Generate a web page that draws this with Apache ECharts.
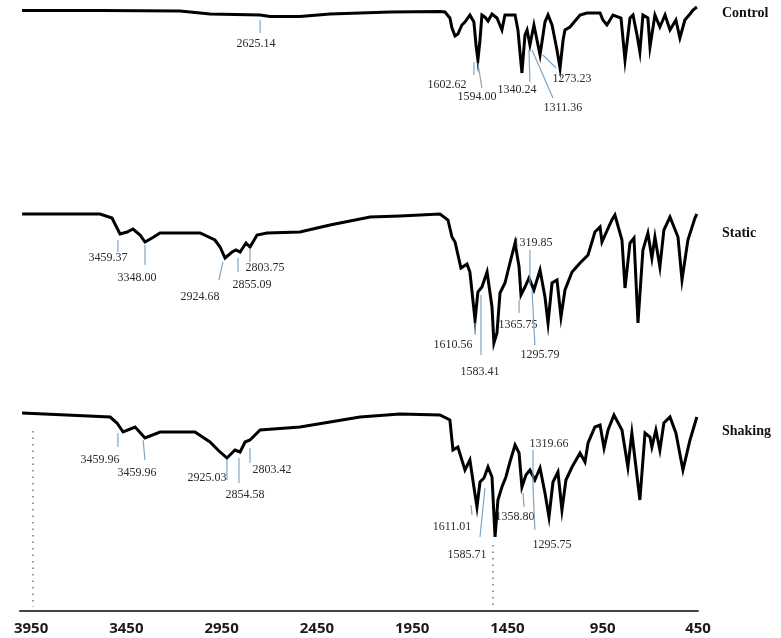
<!DOCTYPE html>
<html>
<head>
<meta charset="utf-8">
<script src="https://cdn.jsdelivr.net/npm/echarts@6/dist/echarts.min.js"></script>
<style>
html,body{margin:0;padding:0;background:#fff;}
#chart{width:781px;height:638px;}
</style>
</head>
<body>
<div id="chart"></div>
<script>
// ---- Data (wavenumber in cm-1, transmittance in arbitrary units) ----
const xTicks = [3950, 3450, 2950, 2450, 1950, 1450, 950, 450];
const seriesNames = ["Control", "Static", "Shaking"];
const offsets = [200, 100, 0];

const controlWn = [3997,3588,3168,3011,2748,2696,2539,2381,2066,1804,1778,1752,1741,1725,1710,1689,1673,1647,1626,1615,1605,1594,1584,1568,1552,1531,1505,1479,1463,1410,1395,1374,1358,1347,1332,1311,1279,1253,1237,1216,1190,1174,1158,1148,1122,1069,1033,964,949,928,896,854,833,807,791,770,755,739,713,702,676,650,623,597,566,545,519,492,476,456];
const controlT  = [100.3,100.3,100,98.5,98,97.3,97.3,98.5,99.5,99.8,99.5,96.5,91.5,87.5,88.5,93,94.5,98,94.5,83,75.5,85.5,98,97,95,98.5,96.5,90.5,98,98,90.5,69,88,90.5,83,93,78,94.5,98,93,80.5,71.5,85.5,90.5,92,98,99,99,95.5,93,98,96.5,75.5,96.5,98,88,79.5,98,96.5,82,98,92,98,90.5,95.5,86.5,95.5,98.5,100.5,102];

const staticWn = [3997,3588,3525,3499,3483,3446,3415,3378,3352,3315,3273,3063,2985,2958,2932,2895,2875,2853,2822,2801,2764,2712,2539,2381,2171,2014,1804,1762,1741,1725,1694,1662,1647,1620,1605,1584,1557,1531,1521,1505,1489,1463,1437,1410,1389,1379,1358,1337,1311,1279,1253,1237,1216,1190,1169,1148,1111,1069,1027,991,964,954,933,902,886,849,833,807,786,765,739,713,692,676,650,629,597,555,534,503,466,456];
const staticT  = [98.5,98.5,96.5,91.5,88.5,89.5,91,88,84.5,86.5,89,89,85.5,82,76.5,79.5,80.5,79.5,84,82,88,89,89.5,93,97,97.5,98.5,95.5,87,84.5,71.5,73.5,69.5,45.5,59.5,62,69.5,52,34,39,59,64,74,84,72,58,62,66.5,60.5,70.5,57,44,64,65.5,47,60.5,69.5,74,78,89.5,92,84.5,89,95.5,98,85.5,61.5,84,86.5,44,80.5,89,76.5,87,72,90.5,97,87,65.5,85.5,96.5,98.5];

const shakingWn = [3997,3535,3499,3467,3404,3352,3273,3090,3011,2969,2922,2880,2853,2827,2801,2748,2539,2381,2224,2014,1804,1752,1736,1710,1673,1647,1626,1610,1594,1573,1552,1531,1515,1500,1479,1458,1437,1410,1389,1374,1353,1332,1306,1279,1253,1232,1211,1185,1164,1143,1111,1069,1043,1027,991,964,943,922,891,849,818,797,755,728,702,692,671,650,629,597,566,529,492,456];
const shakingT  = [99,97,94,89.5,92,86.5,89.5,89.5,84.5,80.5,76.5,80.5,79.5,84.5,85.5,90.5,92,94.5,97,98.5,98,95.5,80.5,82,70.5,75.5,62,52,64.5,66.5,72,67,37,55.5,62,67,74.5,83,79,62,68,70.5,65.5,71.5,59,47,64.5,69.5,50.5,65.5,72,79,74.5,84,92,93,81.5,90.5,98,90.5,72,89,55.5,89,87,82,90.5,80.5,94,97,89,70.5,85.5,97];

// Peak annotations: text, leader line (wn1,v1)->(wn2,v2), text anchor (wn,v)
const peakTexts = ["2625.14","1602.62","1594.00","1340.24","1311.36","1273.23",
  "3459.37","3348.00","2924.68","2855.09","2803.75","1610.56","1583.41","1365.75","1319.85","1295.79",
  "3459.96","3459.96","2925.03","2854.58","2803.42","1611.01","1585.71","1358.80","1319.66","1295.75"];
const peakLeaders = [
  [2748,295.5,2748,289],[1626,274.5,1626,268],[1605,274,1584,261.5],[1337,280.5,1332,264.5],[1321,280.5,1211,256.5],[1264,278,1195,271.5],
  [3494,185.5,3494,179.5],[3352,183,3352,173],[2943,174.5,2964,165.5],[2864,176.5,2864,169.5],[2801,181.5,2801,174.5],[1620,144,1620,138],[1589,158,1589,128],[1389,155.5,1389,149],[1332,180.5,1332,163],[1321,160.5,1306,133],
  [3494,89,3494,82],[3362,85.5,3352,75.5],[2922,75.5,2922,65.5],[2859,76.5,2859,64],[2801,81.5,2801,74],[1641,53,1636,48],[1568,61.5,1594,37],[1368,59,1363,52],[1316,80.5,1316,62],[1316,62,1306,40.5]
];
const peakTextPos = [
  [2769,283.5],[1767,263],[1610,257],[1400,260.5],[1159,251.5],[1111,266],
  [3546,176.5],[3394,166.5],[3063,157],[2790,163],[2722,171.5],[1736,133],[1594,119.5],[1395,143],[1316,184],[1279,128],
  [3588,75.5],[3394,69],[3027,66.5],[2827,58],[2686,70.5],[1741,42],[1662,28],[1410,47],[1232,83.5],[1216,33]
];

// ---- Chart ----
const chart = echarts.init(document.getElementById('chart'), null, {renderer: 'canvas'});

function zipSeries(wn, t, off) {
  return wn.map((w, i) => [w, t[i] + off]);
}
const traceData = [
  zipSeries(controlWn, controlT, offsets[0]),
  zipSeries(staticWn, staticT, offsets[1]),
  zipSeries(shakingWn, shakingT, offsets[2])
];

const annotationData = peakLeaders.map((l, i) => l.concat(peakTextPos[i]));

const series = traceData.map((d, i) => ({
  name: seriesNames[i],
  type: 'line',
  data: d,
  showSymbol: false,
  symbol: 'none',
  lineStyle: {color: '#000', width: 3, join: 'miter'},
  clip: false,
  z: 3
}));

series[2].markLine = {
  silent: true,
  symbol: 'none',
  label: {show: false},
  lineStyle: {color: '#777', type: [1.5, 5], width: 1.5},
  data: [
    [{coord: [3940, 90]}, {coord: [3940, 2]}],
    [{coord: [1526, 33]}, {coord: [1526, 2]}]
  ]
};

series.push({
  type: 'custom',
  data: annotationData,
  silent: true,
  z: 5,
  renderItem: function (params, api) {
    const p1 = api.coord([api.value(0), api.value(1)]);
    const p2 = api.coord([api.value(2), api.value(3)]);
    const pt = api.coord([api.value(4), api.value(5)]);
    return {
      type: 'group',
      children: [
        {type: 'line', shape: {x1: p1[0], y1: p1[1], x2: p2[0], y2: p2[1]},
         style: {stroke: '#7ea6c8', lineWidth: 1.2}},
        {type: 'text', x: pt[0], y: pt[1],
         style: {text: peakTexts[params.dataIndex], fill: '#2a2a2a',
                 font: '12px "Liberation Serif", "Times New Roman", serif',
                 align: 'center', verticalAlign: 'middle'}}
      ]
    };
  }
});

const option = {
  backgroundColor: '#fff',
  animation: false,
  grid: {left: 20, right: 83, top: 1, bottom: 27, containLabel: false},
  xAxis: {
    type: 'value',
    inverse: true,
    min: 450,
    max: 4008,
    splitLine: {show: false},
    axisTick: {show: false},
    axisLine: {show: true, lineStyle: {color: '#444', width: 2}},
    axisLabel: {
      customValues: xTicks,
      formatter: function (v) { return String(v); },
      showMinLabel: true,
      showMaxLabel: true,
      hideOverlap: false,
      color: '#1a1a1a',
      fontFamily: '"Open Sans", sans-serif',
      fontWeight: 'bold',
      fontSize: 15,
      margin: 10
    }
  },
  yAxis: {
    type: 'value',
    min: 0,
    max: 305,
    show: false,
    splitLine: {show: false}
  },
  graphic: [
    {type: 'text', left: 722, top: 6, style: {text: seriesNames[0], fill: '#111', font: 'bold 14px "Liberation Serif", serif'}},
    {type: 'text', left: 722, top: 226, style: {text: seriesNames[1], fill: '#111', font: 'bold 14px "Liberation Serif", serif'}},
    {type: 'text', left: 722, top: 424, style: {text: seriesNames[2], fill: '#111', font: 'bold 14px "Liberation Serif", serif'}}
  ],
  series: series
};

chart.setOption(option);
</script>
</body>
</html>
